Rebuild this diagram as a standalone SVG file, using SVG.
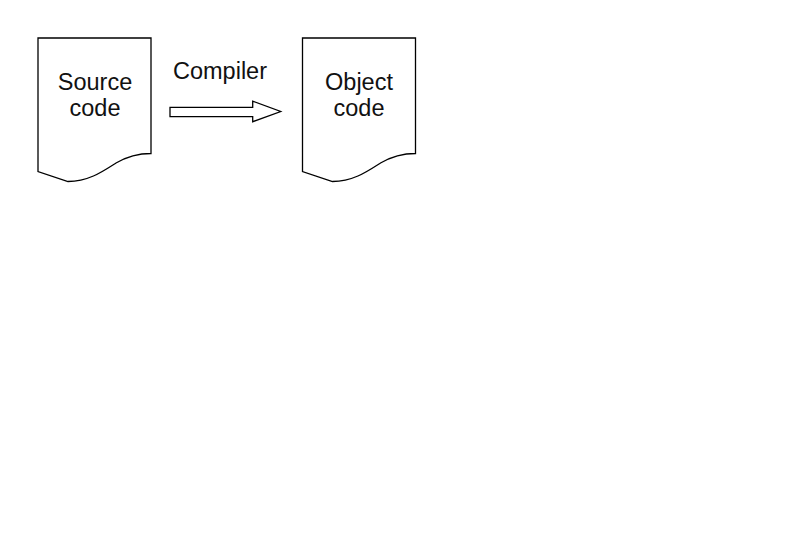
<svg xmlns="http://www.w3.org/2000/svg" width="794" height="558" viewBox="0 0 794 558">
  <defs>
    <style>
      .shape { fill: #ffffff; stroke: #000000; stroke-width: 1.3; stroke-linejoin: miter; }
      .label { font-family: "Liberation Sans", Arial, sans-serif; font-size: 23.5px; fill: #111111; text-anchor: middle; }
    </style>
    <path id="doc" d="M0,0 H113 V115.5 C100,115.5 90,118 78,125 C64,134 50,143.5 30,143.5 L0,133.5 Z"/>
  </defs>
  <rect width="794" height="558" fill="#ffffff"/>
  <g id="source-code">
    <use href="#doc" x="38" y="38" class="shape"/>
    <text class="label" x="95" y="89.5">Source</text>
    <text class="label" x="95" y="116">code</text>
  </g>
  <g id="object-code">
    <use href="#doc" x="302.5" y="38" class="shape"/>
    <text class="label" x="359" y="89.5">Object</text>
    <text class="label" x="359" y="116">code</text>
  </g>
  <g id="connectors">
    <path class="shape" d="M170,107.3 H252.7 V101.2 L280.7,111.5 L252.7,121.7 V116.7 H170 Z"/>
    <text class="label" x="220" y="78.5">Compiler</text>
  </g>
</svg>
